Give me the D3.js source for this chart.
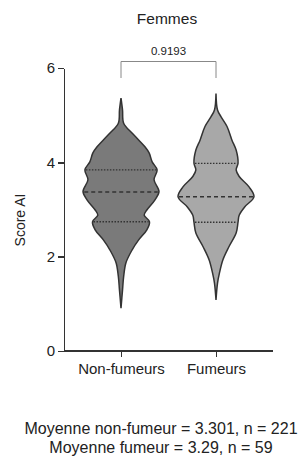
<!DOCTYPE html>
<html lang="fr">
<head>
  <meta charset="utf-8">
  <title>Femmes</title>
  <script type="text/javascript" src="https://cdn.jsdelivr.net/npm/d3@7/dist/d3.min.js"></script>
  <style>
    body { margin: 0; background: #fff; }
    svg text { font-family: "Liberation Sans", Arial, sans-serif; fill: #222; }
    .axis path, .axis line { stroke: #333; stroke-width: 1.5; shape-rendering: crispEdges; }
    .axis text { font-size: 15px; fill: #222; }
    .violin { stroke: #333; stroke-width: 1.5; }
    .median { stroke: #333; stroke-width: 1.5; stroke-dasharray: 4, 3; }
    .quartile { stroke: #333; stroke-width: 1.3; stroke-dasharray: 1.5, 1.5; }
    .bracket { fill: none; stroke: #888; stroke-width: 1; }
  </style>
</head>
<body>
<script type="text/javascript">

  //Width and height
  var w = 304;
  var h = 463;

  var groups = ["Non-fumeurs", "Fumeurs"];
  var yTicks = [0, 2, 4, 6];
  var fills = ["#7a7a7a", "#a8a8a8"];

  // density profile: [score, relative density]
  var densityNonFumeurs = [
    [0.91, 0], [1.29, 0.04], [1.58, 0.07], [1.87, 0.13], [2.14, 0.29], [2.35, 0.46],
    [2.57, 0.68], [2.74, 0.75], [2.88, 0.61], [2.99, 0.68], [3.20, 0.89], [3.38, 1.00],
    [3.63, 0.87], [3.84, 0.95], [4.01, 0.82], [4.20, 0.74], [4.33, 0.63], [4.47, 0.47],
    [4.62, 0.29], [4.83, 0.07], [5.11, 0.04], [5.36, 0]
  ];
  var densityFumeurs = [
    [1.08, 0], [1.44, 0.04], [1.65, 0.09], [1.93, 0.18], [2.21, 0.34], [2.50, 0.53],
    [2.73, 0.58], [2.88, 0.61], [3.06, 0.76], [3.27, 1.00], [3.48, 0.87], [3.70, 0.61],
    [3.84, 0.53], [3.98, 0.58], [4.26, 0.53], [4.47, 0.42], [4.76, 0.29], [4.97, 0.13],
    [5.11, 0.04], [5.46, 0]
  ];
  var densities = [densityNonFumeurs, densityFumeurs];

  // [Q1, median, Q3]
  var quartilesNonFumeurs = [2.74, 3.37, 3.84];
  var quartilesFumeurs = [2.73, 3.27, 3.98];
  var quartiles = [quartilesNonFumeurs, quartilesFumeurs];

  var pValue = "0.9193";
  var title = "Femmes";
  var yLabel = "Score AI";
  var notes = ["Moyenne non-fumeur = 3.301, n = 221", "Moyenne fumeur = 3.29, n = 59"];

  var svg = d3.select("body")
    .append("svg")
    .attr("width", w)
    .attr("height", h);

  var yScale = d3.scaleLinear()
    .domain([0, 6])
    .range([351, 68]);

  var xScale = d3.scalePoint()
    .domain(groups)
    .range([121, 216]);

  var widthScale = d3.scaleLinear()
    .domain([0, 1])
    .range([0, 38]);

  //Violins
  groups.forEach(function (g, i) {
    var cx = xScale(g);
    var area = d3.area()
      .curve(d3.curveCatmullRom)
      .y(function (d) { return yScale(d[0]); })
      .x0(function (d) { return cx - widthScale(d[1]); })
      .x1(function (d) { return cx + widthScale(d[1]); });

    svg.append("path")
      .datum(densities[i])
      .attr("class", "violin")
      .attr("fill", fills[i])
      .attr("d", area);

    // width of violin at a given score
    var prof = densities[i];
    function halfAt(v) {
      for (var k = 1; k < prof.length; k++) {
        if (v <= prof[k][0]) {
          var t = (v - prof[k - 1][0]) / (prof[k][0] - prof[k - 1][0]);
          return widthScale(prof[k - 1][1] + t * (prof[k][1] - prof[k - 1][1]));
        }
      }
      return 0;
    }

    svg.selectAll(".q" + i)
      .data(quartiles[i])
      .enter()
      .append("line")
      .attr("class", function (d, j) { return j == 1 ? "median" : "quartile"; })
      .attr("x1", function (d) { return cx - halfAt(d) + 1; })
      .attr("x2", function (d) { return cx + halfAt(d) - 1; })
      .attr("y1", function (d) { return yScale(d); })
      .attr("y2", function (d) { return yScale(d); });
  });

  //Axes
  var yAxis = d3.axisLeft(yScale)
    .tickValues(yTicks)
    .tickFormat(d3.format("d"))
    .tickSize(6)
    .tickSizeOuter(0);
  svg.append("g")
    .attr("class", "axis")
    .attr("transform", "translate(64,0)")
    .call(yAxis);

  svg.append("g")
    .attr("class", "axis")
    .attr("transform", "translate(0,351)")
    .call(d3.axisBottom(xScale).tickSize(6).tickSizeOuter(0).tickPadding(6))
    .select(".domain")
    .attr("d", "M64,0H273");

  //Labels
  svg.append("text")
    .attr("x", 167)
    .attr("y", 24)
    .attr("text-anchor", "middle")
    .attr("font-size", "15.5px")
    .text(title);

  svg.append("text")
    .attr("transform", "translate(25,220) rotate(-90)")
    .attr("text-anchor", "middle")
    .attr("font-size", "14px")
    .text(yLabel);

  //Significance bracket
  svg.append("path")
    .attr("class", "bracket")
    .attr("d", "M" + xScale(groups[0]) + ",78V61.5H" + xScale(groups[1]) + "V78");

  svg.append("text")
    .attr("x", (xScale(groups[0]) + xScale(groups[1])) / 2)
    .attr("y", 55)
    .attr("text-anchor", "middle")
    .attr("font-size", "11.5px")
    .text(pValue);

  svg.selectAll(".note")
    .data(notes)
    .enter()
    .append("text")
    .attr("class", "note")
    .attr("x", 161)
    .attr("y", function (d, i) { return 434 + i * 19; })
    .attr("text-anchor", "middle")
    .attr("font-size", "16px")
    .text(function (d) { return d; });

</script>
</body>
</html>
